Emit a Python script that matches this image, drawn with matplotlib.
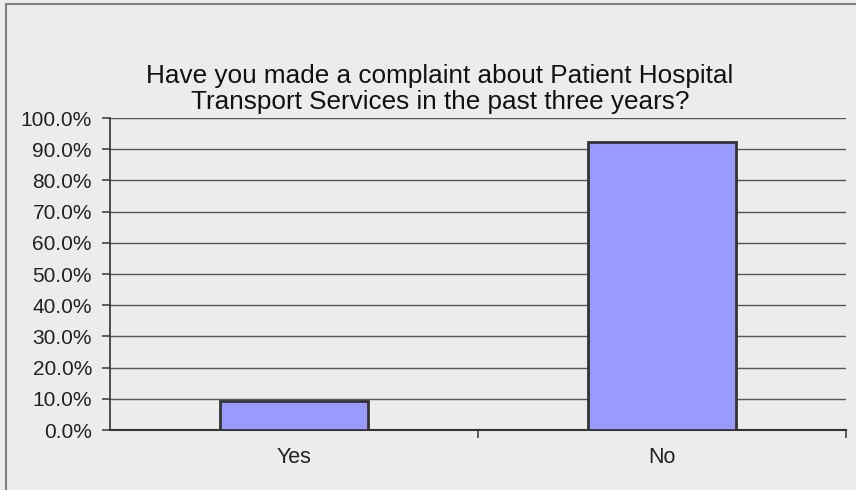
import matplotlib.pyplot as plt
from matplotlib.patches import Rectangle
from matplotlib.ticker import FuncFormatter

plt.rcParams['font.family'] = ['Liberation Sans', 'DejaVu Sans']

categories = ['Yes', 'No']
percent = [9.3, 92.3]
yticks = [0, 10, 20, 30, 40, 50, 60, 70, 80, 90, 100]

W, H = 856, 490
fig = plt.figure(figsize=(W / 100, H / 100), dpi=100)
fig.patch.set_facecolor('#ececec')

# outer frame (only left and top edges fall inside the image)
fig.patches.append(Rectangle((6 / W, -0.1), 1.2, (H - 4) / H + 0.1,
                             transform=fig.transFigure, fill=False,
                             edgecolor='#7f7f7f', linewidth=1.5))

ax = fig.add_axes([110 / W, (H - 430) / H, 736 / W, 312 / H])
ax.set_facecolor('#ececec')

x = range(len(categories))
ax.bar(x, percent, width=0.4, color='#9999ff', edgecolor='#333333',
       linewidth=2, zorder=3)

ax.set_xlim(-0.5, 1.5)
ax.set_ylim(0, 100)
ax.set_yticks(yticks)
ax.yaxis.set_major_formatter(FuncFormatter(lambda v, p: '%.1f%%' % v))
ax.grid(axis='y', color='#555555', linewidth=1, zorder=0)

# category labels sit between boundary ticks
ax.set_xticks([0.5, 1.5])
ax.set_xticklabels([])
ax.set_xticks(list(x), minor=True)
ax.set_xticklabels(categories, minor=True)
ax.tick_params(axis='x', which='minor', length=0, pad=12, labelsize=15.5,
               labelcolor='#222222')
ax.tick_params(axis='x', which='major', length=6, width=1.2, color='#444444')
ax.tick_params(axis='y', length=6, width=1.2, color='#444444', pad=7,
               labelsize=15, labelcolor='#222222')

for side in ['top', 'right']:
    ax.spines[side].set_visible(False)
ax.spines['left'].set_color('#333333')
ax.spines['bottom'].set_color('#333333')
ax.spines['left'].set_linewidth(1.2)
ax.spines['bottom'].set_linewidth(1.5)

fig.text(440 / W, 1 - 89 / H,
         'Have you made a complaint about Patient Hospital\nTransport Services in the past three years?',
         ha='center', va='center', fontsize=18.8, color='#111111',
         linespacing=1.14)

fig.savefig('out.png', dpi=100, facecolor=fig.get_facecolor())
